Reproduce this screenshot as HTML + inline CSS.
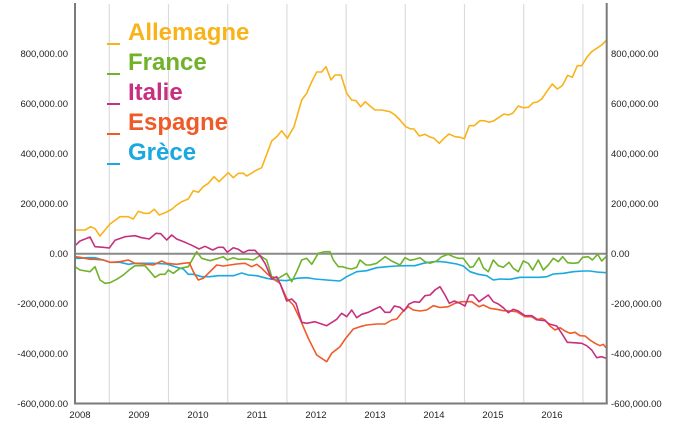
<!DOCTYPE html>
<html><head><meta charset="utf-8"><style>
html,body{margin:0;padding:0;background:#fff;}
body{width:678px;height:434px;overflow:hidden;position:relative;font-family:"Liberation Sans",Arial,sans-serif;}
svg{position:absolute;left:0;top:0;}
.ax{font-family:"Liberation Sans",Arial,sans-serif;font-size:9.5px;fill:#222;}
.lg{font-family:"Liberation Sans",Arial,sans-serif;font-size:24px;font-weight:bold;}
</style></head><body>
<svg width="678" height="434" viewBox="0 0 678 434" xmlns="http://www.w3.org/2000/svg">
<g stroke="#dcdcdc" stroke-width="1.2">
<line x1="109.3" y1="4" x2="109.3" y2="403"/>
<line x1="168.5" y1="4" x2="168.5" y2="403"/>
<line x1="227.7" y1="4" x2="227.7" y2="403"/>
<line x1="286.9" y1="4" x2="286.9" y2="403"/>
<line x1="346.1" y1="4" x2="346.1" y2="403"/>
<line x1="405.3" y1="4" x2="405.3" y2="403"/>
<line x1="464.5" y1="4" x2="464.5" y2="403"/>
<line x1="523.7" y1="4" x2="523.7" y2="403"/>
<line x1="582.9" y1="4" x2="582.9" y2="403"/>
</g>
<line x1="75" y1="253.7" x2="607" y2="253.7" stroke="#8a8a8a" stroke-width="2"/>
<g fill="none" stroke-width="1.6" stroke-linejoin="round">
<polyline stroke="#f9b31a" points="75,230 85,230 90.7,226.7 95,228.7 100,236 110,224 120,216.7 128.3,216.7 133.3,219 138.3,211.3 144,213.3 149.3,213.3 154.3,209.3 159.3,215 166.7,212 171.7,209.3 176.7,205 181.7,201.7 188.3,199 193.3,190.7 198.3,192.3 203.3,186.7 208.3,183.3 214,176.7 219,181.7 228.3,172.7 233.3,177.7 238.3,173.3 243.3,173.3 246.7,176 256.7,170 261.7,167.7 271.7,141 276.7,136.7 281.7,130.7 287.3,138.3 294,126.7 301.7,100 306.7,93.3 311.7,81.7 316.7,72 321.7,72 326,66.7 331,80 335,75 339.3,75 341,75 346.7,93.3 351.7,100 356,100.7 360.7,106.7 365.3,101.7 370,106 375,110 381.7,110 390,111.7 395,115 400,120 405.7,126.7 410,128.7 414,129 419.3,136 425,134.3 429.3,136.7 434,138.3 439.3,143.3 444,138.3 449,134 455,136.7 460,137.3 464.3,138.7 469.3,125.7 474,125.7 480,120.7 484.3,120.7 489.3,122.3 494,120.7 499,117.3 504,114 508.3,115 512.7,113.3 518.3,106 523.3,107.7 528.3,107.3 533.3,102.7 537.3,102 541.7,99 546.7,91.7 552.3,84 557.3,89 562.3,85.7 567.7,75.3 572.3,77.3 577.3,65.7 581.7,65.7 587.3,56.7 591.7,51.7 596.7,48.3 601.7,45 606.7,40"/>
<polyline stroke="#19a9e0" points="75,258.3 80,258.3 86.7,257.7 95,257.7 103.3,260 110,262.3 120,262.3 128.3,264.3 135,263.3 143.3,263.3 153.3,263.3 166.7,264 176.7,267.3 183.3,269 188.3,274.3 193.3,274.3 201.7,276.7 210,276.7 218.3,275.7 226.7,275.7 233.3,275.7 241.7,273 248.3,275 256.7,275.7 266.7,278.3 276.7,280 286.7,280.7 296.7,278.3 306.7,277.7 315,279 326.7,280 340,281 346.7,276.7 356.7,271.7 366.7,270.7 376.7,267.7 386.7,266.7 396.7,266 406.7,265.7 415,265.7 423.3,263.3 433.3,261.7 440,261.5 446.7,262.3 456.7,264 463.3,266 470,271.7 478.3,274.3 486.7,275.7 493.3,280 500,279 510,279.3 520,277.3 530,277.3 540,277.3 546.7,276.7 553.3,274 563.3,273.3 573.3,271.7 583.3,271 590,271 596.7,272 606,272.7"/>
<polyline stroke="#70b22a" points="75,266.7 80,270 90,271.7 95,266.7 100,280 105,283.3 110,282.7 116.7,279.3 123.3,275 130,269.3 135,265.7 145,265.7 155,277.3 160,274.3 165,274.3 168.3,270 173.3,273.3 180,268.3 188.3,266.7 196.7,251.7 201.7,258.3 210,260.7 218.3,258.3 223.3,256.7 227.3,260 233.3,257.7 238.3,259.3 246.7,259 253.3,260 260,255.5 266.7,260 271.7,276.7 278.3,278.3 286.7,273.3 291.7,281.7 296.7,271.7 301.7,260 306.7,258.3 311.7,264.3 318.3,253.3 325,251.7 330,251.7 333.3,260 338.3,266.7 342.7,266.7 347.3,268.3 351.7,269 356.7,267.3 360,260 366,265 370,265 376.7,263.3 385,256.7 391.7,261 400,265 405,257.7 410,260.3 415,259.3 420,257.7 425,261.7 430,263.3 436.7,261 441.7,256.7 448.3,254.3 453.3,256.7 458.3,258.3 463.3,258.3 470,267.3 473.3,266.7 479,257.7 483.3,267.7 488.3,271.7 493.3,260 498.3,265.7 503.3,267.3 509,262.3 513.3,268.3 518.3,271.7 523.3,261 528.3,263.3 532.7,270 538.3,260 543.3,270 548.3,265 553.3,258.3 558.3,261.7 562.7,256.7 567.7,262.7 573.3,263.3 578.3,262.7 582.7,257.3 588.3,256.7 592.3,260 597.7,254.3 601.7,261 606,256.7"/>
<polyline stroke="#f05a28" points="75,256.7 80,257.3 90,259.3 95,259.3 103.3,260 110,262.3 120,261.7 128.3,260 135,263.3 143.3,264 153.3,265 161.7,261 166.7,263.3 176.7,264.3 183.3,263.3 189.3,262.7 193.3,271.7 198.3,280 203.3,278.3 210,271.7 216.7,265 223.3,266 230,265 236.7,264 245,263.3 251.7,266.7 256.7,264.3 261.7,268.3 266.7,273.3 273.3,279 280,283.3 286.7,298.3 293.3,305 300,319 308.3,338.3 316.7,355 326.7,361.7 331.7,353.3 340,346.7 345,339.3 353.3,329 360,326.7 366.7,325 376.7,324 385,324 391.7,320 396.7,319 403.3,311 408.3,306.7 413.3,310 420,311 426.7,310 433.3,305.7 440,307.5 448.3,306.7 455,303.3 461.7,301.7 471.7,301.7 479,306.7 483.3,305 490,308.3 496.7,309.3 503.3,310.7 510,311 516.7,311.7 525,316.7 531.7,316.7 536.7,320 541.7,318.3 545,320 550,326 555,330 560,327.7 565,331 570,333.3 575,332.3 580,335.7 585,336 590,340 595,343.3 600,345.7 603.3,344.3 606,347.7"/>
<polyline stroke="#c6307f" points="75,245.7 80,241 90,237 95,246.7 103.3,247.3 109.3,248 115,240.3 125,236.7 135,235.7 141.7,237.7 149.3,239 156,233.3 160.7,233.7 166.7,240 171.7,235 176.7,239 185,242.3 192.7,245.7 199,249 205,246.3 212.7,250 218.3,247.3 223.3,247.3 227.3,252.3 233.3,247.7 238.3,249.3 243.3,252.7 248.3,250.3 255,250.3 260,255.7 265,263.3 271.7,279 276.7,276.7 280,283.3 286.7,301 291.7,299 296,303.3 301.7,322.3 306.7,323.3 315,321.7 326.7,325.7 336.7,319.3 341.7,313.3 346.7,316.7 351.7,310 356.7,317.7 361.7,314.3 368.3,312.3 375,309 380,306.7 385,312.3 390,312.3 394.3,306 400,307.3 404,311 409,304 414.3,301.7 419.3,302.3 425,295.7 430,295 435,290 440,286.7 445,295 449.3,303.3 454.3,301 460,303.3 465,306 469.3,295 473.3,295 479,301.7 488.3,295 493.3,301.7 498.3,304 503.3,307.7 508.3,312.7 513.3,309.3 518.3,311 525,315.7 531.7,315.7 538.3,320 545,320.7 549.3,324 556.7,326 561.7,333.3 567.3,342.3 573.3,342.7 581.7,343.3 586.7,345.7 591.7,350 596.7,357.7 601.7,356.7 606,358.3"/>
</g>
<g stroke="#7a7a7a" stroke-width="2" fill="none">
<line x1="75" y1="3" x2="75" y2="404"/>
<line x1="606.7" y1="3" x2="606.7" y2="404"/>
<line x1="74" y1="403.5" x2="607.7" y2="403.5"/>
</g>
<g class="ax" text-anchor="end">
<text x="68" y="57">800,000.00</text>
<text x="68" y="107">600,000.00</text>
<text x="68" y="157">400,000.00</text>
<text x="68" y="207">200,000.00</text>
<text x="68" y="257">0.00</text>
<text x="68" y="307">-200,000.00</text>
<text x="68" y="357">-400,000.00</text>
<text x="68" y="407">-600,000.00</text>
</g>
<g class="ax" text-anchor="start">
<text x="611" y="57">800,000.00</text>
<text x="611" y="107">600,000.00</text>
<text x="611" y="157">400,000.00</text>
<text x="611" y="207">200,000.00</text>
<text x="611" y="257">0.00</text>
<text x="611" y="307">-200,000.00</text>
<text x="611" y="357">-400,000.00</text>
<text x="611" y="407">-600,000.00</text>
</g>
<g class="ax" text-anchor="middle">
<text x="80" y="418">2008</text>
<text x="139" y="418">2009</text>
<text x="198" y="418">2010</text>
<text x="257" y="418">2011</text>
<text x="316" y="418">2012</text>
<text x="375" y="418">2013</text>
<text x="434" y="418">2014</text>
<text x="493" y="418">2015</text>
<text x="552" y="418">2016</text>
</g>
<g stroke-width="2">
<line x1="107" y1="44" x2="120" y2="44" stroke="#f9b31a"/>
<line x1="107" y1="74" x2="120" y2="74" stroke="#70b22a"/>
<line x1="107" y1="104" x2="120" y2="104" stroke="#c6307f"/>
<line x1="107" y1="134" x2="120" y2="134" stroke="#f05a28"/>
<line x1="107" y1="164" x2="120" y2="164" stroke="#19a9e0"/>
</g>
<g class="lg">
<text x="128" y="40" fill="#f9b31a">Allemagne</text>
<text x="128" y="70" fill="#70b22a">France</text>
<text x="128" y="100" fill="#c6307f">Italie</text>
<text x="128" y="130" fill="#f05a28">Espagne</text>
<text x="128" y="160" fill="#19a9e0">Grèce</text>
</g>
</svg>
</body></html>
